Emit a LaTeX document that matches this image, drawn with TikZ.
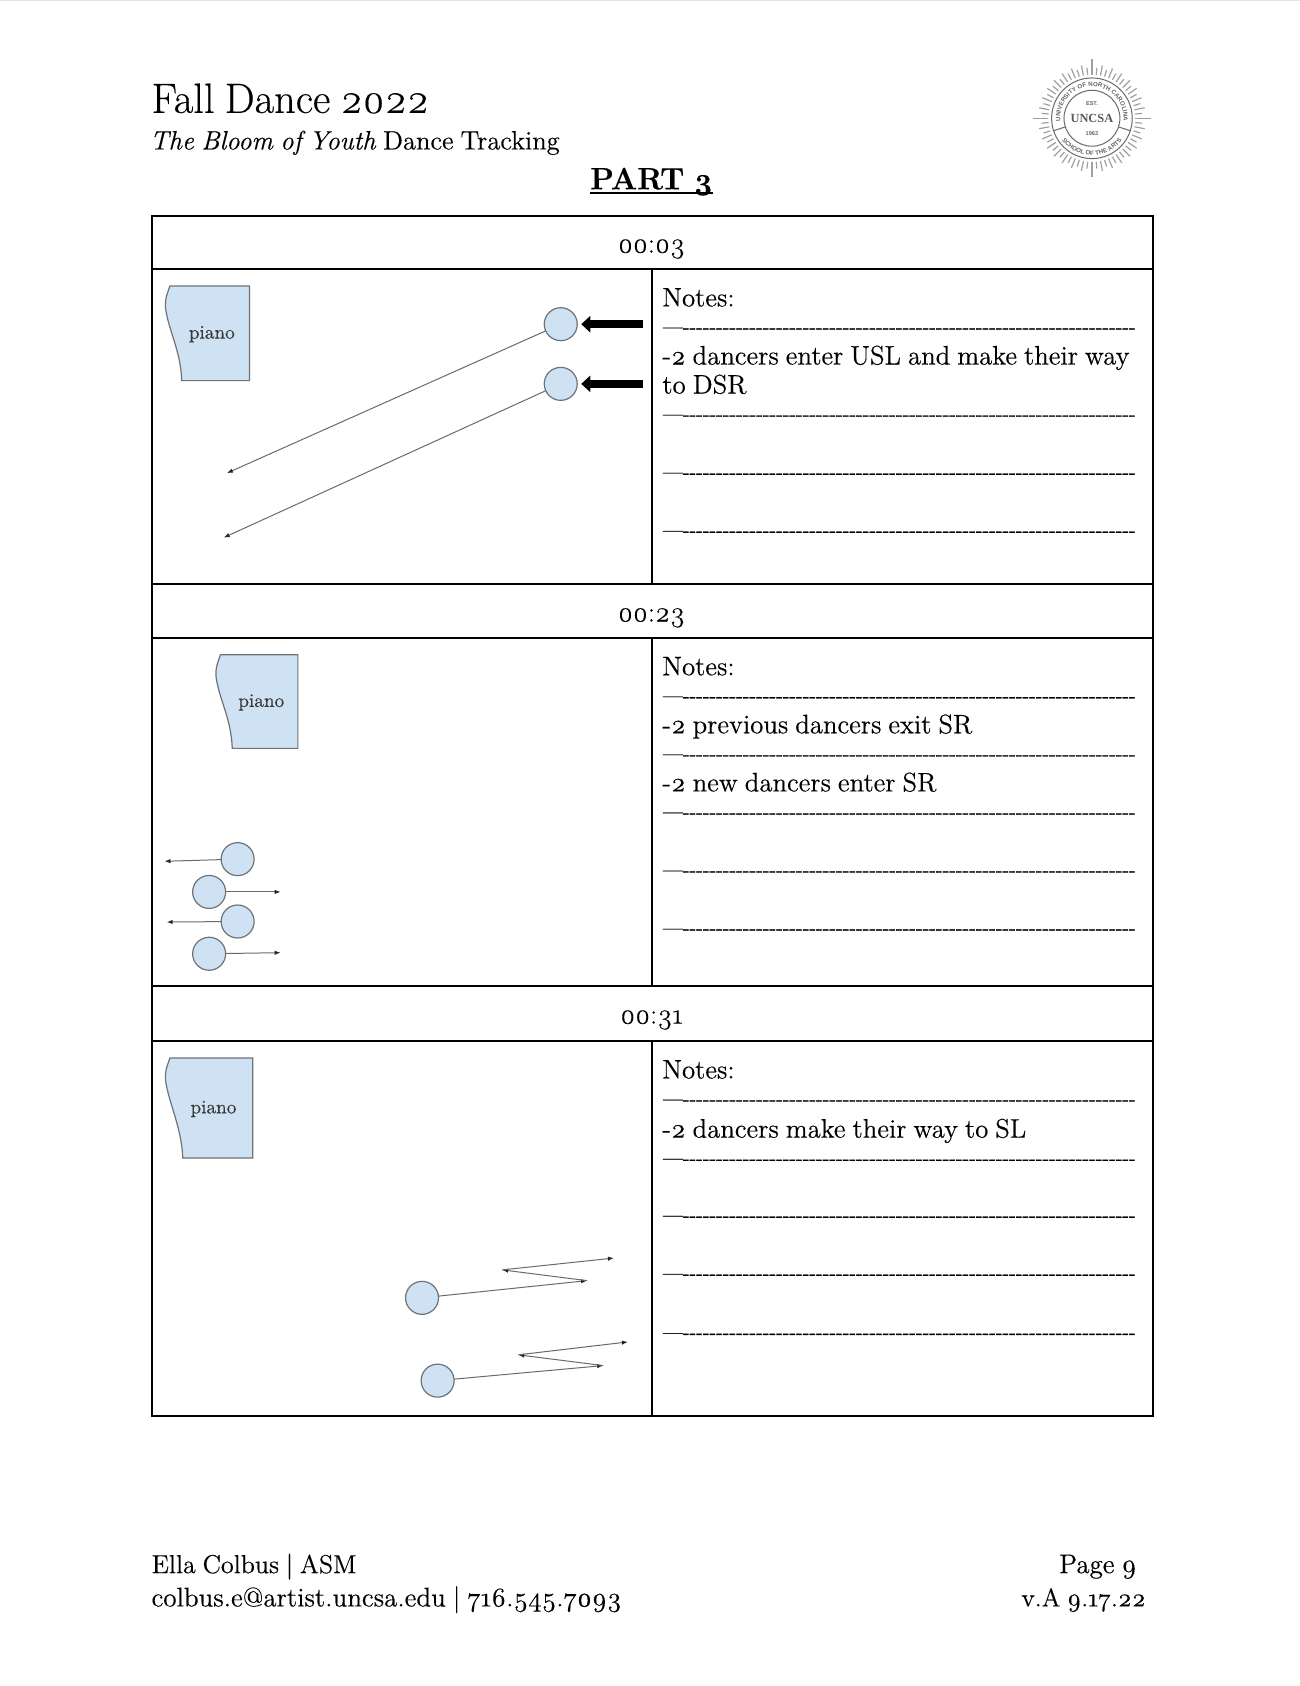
\documentclass[tikz,border=0pt]{standalone}
\usepackage{fontspec}
\setmainfont{Latin Modern Roman}[Numbers=OldStyle,WordSpace=0.8,FakeBold=0.35]
\newfontfamily\dashfont{Latin Modern Roman}[FakeBold=1.0]
\newfontfamily\logofont{Liberation Sans}
\newfontfamily\logoserif{Liberation Serif}
\usetikzlibrary{arrows.meta,decorations.text}
\definecolor{pianoblue}{HTML}{CFE2F3}
\definecolor{shapeline}{HTML}{6E7378}
\definecolor{pathline}{HTML}{6A6A6A}
\definecolor{logogray}{HTML}{A0A0A0}
\newlength{\uu}\setlength{\uu}{0.53763pt}
\newcommand{\dashtext}{{\dashfont\fontsize{10}{10}\selectfont —--------------------------------------------------------------------}}
\newcommand{\dashrow}[2]{\node[txt,font=\fontsize{10}{10}\selectfont] (#1) at (616.5,#2+6) {\dashtext};}
\newcommand{\pianoshape}[7]{%
  % #1 name, #2 left-top x, #3 top y, #4 right x, #5 bottom y, #6 bottom-left x, #7 bulge x
  \draw[shapedraw] (#2,#3) -- (#4,#3) -- (#4,#5) -- (#6,#5)
    .. controls (#6-1,#5-28) and (#7+3,#3+42) .. (#7,#3+21)
    .. controls (#7-1,#3+12) and (#2-2,#3+6) .. (#2,#3) -- cycle;
  \node[pianotext] (#1) at ({(#4+#7)/2+4},{(#3+#5)/2+0.8}) {piano};}
\tikzset{
  x=\uu, y=-\uu,
  rule/.style={line width=1.05pt,black},
  txt/.style={anchor=base west,inner sep=0pt,outer sep=0pt,font=\fontsize{13.4}{15}\selectfont,text=black},
  ctxt/.style={anchor=base,inner sep=0pt,outer sep=0pt,font=\fontsize{14.3}{16}\selectfont,text=black},
  shapedraw/.style={fill=pianoblue,draw=shapeline,line width=0.6pt},
  pianotext/.style={inner sep=0pt,font=\fontsize{9.6}{12}\selectfont,text=black!78},
  dancer/.style={circle,fill=pianoblue,draw=shapeline,line width=0.6pt,minimum size=16.5pt,inner sep=0pt,outer sep=0pt},
  track/.style={draw=pathline,line width=0.5pt,-{Latex[length=3pt,width=2.2pt,black!85]}},
  entry/.style={draw=black,line width=4pt,-{Triangle[length=4.5pt,width=8pt,black]},shorten >=2pt},
  ray/.style={draw=logogray,line width=0.6pt},
  ringline/.style={draw=black!58,line width=0.5pt},
  arctext/.style={decorate,decoration={text along path,text align=center,text={#1}}},
}
\begin{document}
\begin{tikzpicture}
\useasboundingbox[fill=white] (0,0) rectangle (1209,1568);
\draw[draw=black!10,line width=0.4pt] (0,0.5) -- (1209,0.5);
% page heading
\node[txt,font=\fontsize{21.2}{24}\selectfont] (title) at (141,105) {Fall Dance 2022};
\node[txt,font=\fontsize{13.3}{16}\selectfont] (subtitle) at (139.5,139) {\textit{The Bloom of Youth} Dance Tracking};
\node[ctxt,font=\fontsize{15.4}{20}\selectfont\bfseries] (part) at (606,176) {PART 3};
\draw[draw=black,line width=0.8pt] ([yshift=-3.6*\uu]part.base west) -- ([yshift=-3.6*\uu]part.base east);
% logo
\begin{scope}[shift={(1015.5,110)},x=\uu,y=\uu]
  \foreach \a in {0,11.25,...,349} {\draw[ray] (\a:40.5) -- (\a:50);}
  \foreach \a in {5.625,16.875,...,359} {\draw[ray] (\a:40.5) -- (\a:47);}
  \foreach \a in {0,90,180,270} {\draw[ray] (\a:40.5) -- (\a:55);}
  \draw[ringline] (0,0) circle[radius=37.5];
  \draw[ringline] (0,0) circle[radius=26];
  \draw[ringline] (-18:26) -- (-18:37.5);
  \draw[ringline] (198:26) -- (198:37.5);
  \node[inner sep=0pt,font=\logoserif\fontsize{6.2}{7}\selectfont\bfseries,text=black!65] (logoname) at (0,0) {UNCSA};
  \node[inner sep=0pt,font=\logofont\fontsize{2.8}{3}\selectfont\bfseries,text=black!60] (logoest) at (0,14) {EST.};
  \node[inner sep=0pt,font=\logofont\fontsize{2.8}{3}\selectfont\bfseries,text=black!60] (logoyear) at (0,-14) {1963};
  \path[arctext={|\logofont\fontsize{3.1}{3}\selectfont\bfseries\color{black!60}|UNIVERSITY OF NORTH CAROLINA}] (190:29.5) arc[start angle=190,end angle=-10,radius=29.5];
  \path[arctext={|\logofont\fontsize{3.1}{3}\selectfont\bfseries\color{black!60}|SCHOOL OF THE ARTS}] (205:34.5) arc[start angle=205,end angle=335,radius=34.5];
\end{scope}
% table
\draw[rule] (141,200.5) rectangle (1072.5,1317);
\foreach \yy in {250.5,543,593,917,968.5} {\draw[rule] (141,\yy) -- (1072.5,\yy);}
\draw[rule] (606.5,250.5) -- (606.5,543);
\draw[rule] (606.5,593) -- (606.5,917);
\draw[rule] (606.5,968.5) -- (606.5,1317);
\node[ctxt] (time1) at (606,235) {00:03};
\node[ctxt] (time2) at (606,578) {00:23};
\node[ctxt] (time3) at (606,952) {00:31};
% notes 1
\node[txt] (notesA) at (616,285) {Notes:};
\dashrow{dA1}{304}
\node[txt] (noteA1) at (616,339) {-2 dancers enter USL and make their way};
\node[txt] (noteA2) at (616,366) {to DSR};
\dashrow{dA2}{385}
\dashrow{dA3}{439}
\dashrow{dA4}{493}
% notes 2
\node[txt] (notesB) at (616,628) {Notes:};
\dashrow{dB1}{647}
\node[txt] (noteB1) at (616,682) {-2 previous dancers exit SR};
\dashrow{dB2}{701}
\node[txt] (noteB2) at (616,736) {-2 new dancers enter SR};
\dashrow{dB3}{755}
\dashrow{dB4}{809}
\dashrow{dB5}{863}
% notes 3
\node[txt] (notesC) at (616,1003) {Notes:};
\dashrow{dC1}{1022}
\node[txt] (noteC1) at (616,1058) {-2 dancers make their way to SL};
\dashrow{dC2}{1077}
\dashrow{dC3}{1130}
\dashrow{dC4}{1184}
\dashrow{dC5}{1239}
% pianos
\pianoshape{pianoA}{158}{266}{232}{354}{169}{154}
\pianoshape{pianoB}{205}{609}{277}{696}{216}{201}
\pianoshape{pianoC}{158}{984}{235}{1077}{170}{154}
% section 1 dancers
\node[dancer] (a1) at (521.5,301.5) {};
\node[dancer] (a2) at (521.5,357) {};
\coordinate (a1end) at (211,440);
\coordinate (a2end) at (208,500);
\coordinate (a1in) at (598,301.5);
\coordinate (a2in) at (598,357);
\draw[track] (a1) -- (a1end);
\draw[track] (a2) -- (a2end);
\draw[entry] (a1in) -- (a1);
\draw[entry] (a2in) -- (a2);
% section 2 dancers
\node[dancer] (b1) at (221,799) {};
\node[dancer] (b2) at (194.5,829.5) {};
\node[dancer] (b3) at (221,857) {};
\node[dancer] (b4) at (194.5,887) {};
\coordinate (b1end) at (153,801);
\coordinate (b2end) at (261,829.5);
\coordinate (b3end) at (155,857.5);
\coordinate (b4end) at (261,886);
\draw[track] (b1) -- (b1end);
\draw[track] (b2) -- (b2end);
\draw[track] (b3) -- (b3end);
\draw[track] (b4) -- (b4end);
% section 3 dancers
\node[dancer] (c1) at (392.5,1207) {};
\node[dancer] (c2) at (407,1284) {};
\coordinate (c1p) at (546,1191);
\coordinate (c1q) at (467,1181);
\coordinate (c1r) at (571,1170);
\coordinate (c2p) at (561,1270);
\coordinate (c2q) at (482,1260);
\coordinate (c2r) at (584,1248);
\draw[track] (c1) -- (c1p);
\draw[track] (c1p) -- (c1q);
\draw[track] (c1q) -- (c1r);
\draw[track] (c2) -- (c2p);
\draw[track] (c2p) -- (c2q);
\draw[track] (c2q) -- (c2r);
% footer
\node[txt,font=\fontsize{13}{16}\selectfont] (foot1) at (141,1463) {Ella Colbus | ASM};
\node[txt,font=\fontsize{13.5}{16}\selectfont] (foot2) at (141,1494) {colbus.e@artist.uncsa.edu | 716.545.7093};
\node[txt,font=\fontsize{13.5}{16}\selectfont] (foot3) at (985,1463) {Page 9};
\node[txt,font=\fontsize{12.8}{16}\selectfont] (foot4) at (950,1494) {v.A 9.17.22};
\end{tikzpicture}
\end{document}
